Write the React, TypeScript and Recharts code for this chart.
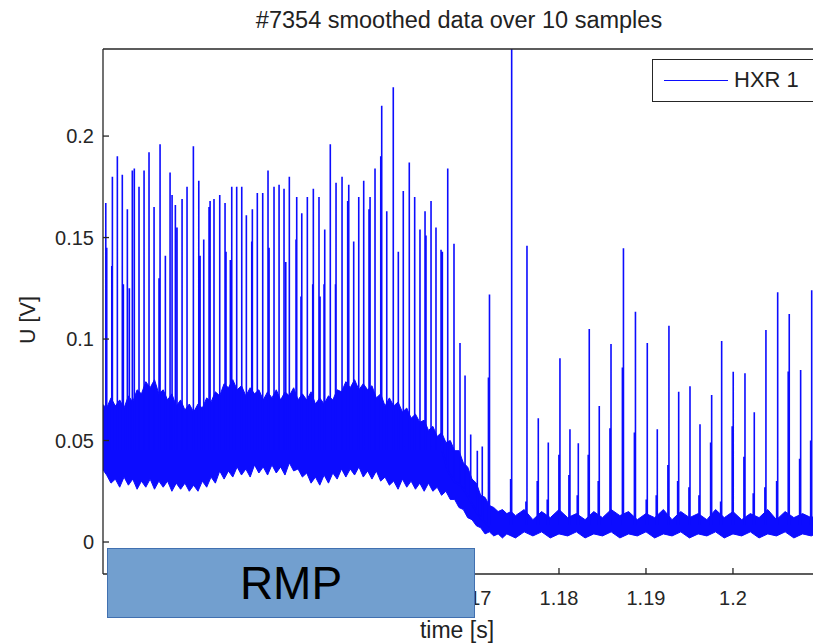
import React from "react";
import { ComposedChart, XAxis, YAxis, Area, Line } from "recharts";

// ---- axis settings ----
const X_MIN = 1.12758;
const X_MAX = 1.20943;
const Y_MIN = -0.01576;
const Y_MAX = 0.2429;
const xTicks = [1.13, 1.14, 1.15, 1.16, 1.17, 1.18, 1.19, 1.2];
// labels of 1.13 .. 1.16 are hidden under the RMP box in the reference
const xTickLabels = ["", "", "", "", "1.17", "1.18", "1.19", "1.2"];
const yTicks = [0, 0.05, 0.1, 0.15, 0.2];
const yTickLabels = ["0", "0.05", "0.1", "0.15", "0.2"];

// ---- noisy baseline band (envelope of the dense signal) ----
const bandTime = [
  1.1275, 1.128, 1.1285, 1.129, 1.1295, 1.13, 1.1305, 1.131, 1.1315, 1.132, 1.1325, 1.133,
  1.1335, 1.134, 1.1345, 1.135, 1.1355, 1.136, 1.1365, 1.137, 1.1375, 1.138, 1.1385, 1.139,
  1.1395, 1.14, 1.1405, 1.141, 1.1415, 1.142, 1.1425, 1.143, 1.1435, 1.144, 1.1445, 1.145,
  1.1455, 1.146, 1.1465, 1.147, 1.1475, 1.148, 1.1485, 1.149, 1.1495, 1.15, 1.1505, 1.151,
  1.1515, 1.152, 1.1525, 1.153, 1.1535, 1.154, 1.1545, 1.155, 1.1555, 1.156, 1.1565, 1.157,
  1.1575, 1.158, 1.1585, 1.159, 1.1595, 1.16, 1.1605, 1.161, 1.1615, 1.162, 1.1625, 1.163,
  1.1635, 1.164, 1.1645, 1.165, 1.1655, 1.166, 1.1665, 1.167, 1.1675, 1.168, 1.1685, 1.169,
  1.1695, 1.17, 1.1705, 1.171, 1.1715, 1.172, 1.1725, 1.173, 1.1735, 1.174, 1.1745,
  1.175, 1.176, 1.177, 1.178, 1.179, 1.18, 1.181, 1.182, 1.183, 1.184, 1.185, 1.186, 1.187,
  1.188, 1.189, 1.19, 1.191, 1.192, 1.193, 1.194, 1.195, 1.196, 1.197, 1.198, 1.199, 1.2,
  1.201, 1.202, 1.203, 1.204, 1.205, 1.206, 1.207, 1.208, 1.209, 1.2095,
];
const bandLow = [
  0.036, 0.033, 0.029, 0.031, 0.027, 0.032, 0.028, 0.031, 0.026, 0.03, 0.027, 0.031,
  0.026, 0.03, 0.027, 0.03, 0.025, 0.029, 0.026, 0.029, 0.025, 0.028, 0.025, 0.03,
  0.027, 0.032, 0.029, 0.035, 0.031, 0.035, 0.032, 0.037, 0.033, 0.036, 0.032, 0.038,
  0.034, 0.037, 0.033, 0.038, 0.034, 0.037, 0.033, 0.039, 0.035, 0.036, 0.032, 0.034,
  0.029, 0.032, 0.028, 0.033, 0.029, 0.034, 0.031, 0.036, 0.032, 0.036, 0.033, 0.037,
  0.032, 0.035, 0.031, 0.035, 0.03, 0.032, 0.028, 0.03, 0.026, 0.031, 0.027, 0.03,
  0.026, 0.029, 0.025, 0.029, 0.025, 0.027, 0.023, 0.025, 0.021, 0.021, 0.017, 0.016,
  0.012, 0.011, 0.008, 0.007, 0.004, 0.005, 0.003, 0.004, 0.002, 0.004, 0.003,
  0.002, 0.005, 0.003, 0.005, 0.002, 0.004, 0.003, 0.005, 0.002, 0.004, 0.003, 0.005, 0.002,
  0.004, 0.003, 0.005, 0.002, 0.004, 0.003, 0.005, 0.002, 0.004, 0.003, 0.005, 0.002, 0.004,
  0.003, 0.005, 0.002, 0.004, 0.003, 0.005, 0.002, 0.004, 0.003, 0.004,
];
const bandHigh = [
  0.068, 0.066, 0.071, 0.067, 0.07, 0.066, 0.072, 0.069, 0.075, 0.073, 0.079, 0.076,
  0.08, 0.073, 0.075, 0.07, 0.073, 0.067, 0.07, 0.065, 0.068, 0.064, 0.068, 0.066,
  0.071, 0.069, 0.074, 0.072, 0.078, 0.076, 0.08, 0.075, 0.077, 0.072, 0.076, 0.073,
  0.075, 0.07, 0.074, 0.071, 0.075, 0.07, 0.074, 0.072, 0.076, 0.07, 0.073, 0.07,
  0.074, 0.068, 0.071, 0.068, 0.072, 0.07, 0.075, 0.074, 0.079, 0.076, 0.08, 0.075,
  0.078, 0.075, 0.077, 0.071, 0.073, 0.067, 0.071, 0.067, 0.069, 0.064, 0.066, 0.061,
  0.063, 0.059, 0.06, 0.055, 0.057, 0.052, 0.054, 0.049, 0.05, 0.045, 0.045, 0.039,
  0.037, 0.031, 0.029, 0.023, 0.022, 0.018, 0.017, 0.015, 0.016, 0.014, 0.015,
  0.013, 0.016, 0.011, 0.015, 0.012, 0.016, 0.012, 0.014, 0.011, 0.015, 0.012, 0.016, 0.013,
  0.015, 0.011, 0.014, 0.012, 0.016, 0.011, 0.015, 0.012, 0.014, 0.011, 0.016, 0.012, 0.015,
  0.011, 0.014, 0.012, 0.016, 0.011, 0.015, 0.012, 0.014, 0.012, 0.013,
];

// ---- spikes before the drop (base inside band) ----
const LEFT_BASE = 0.045;
const leftSpikeTime = [
  1.1279, 1.12801, 1.12859, 1.12866, 1.12923, 1.1298, 1.12992, 1.13038, 1.13061, 1.13095,
  1.13118, 1.13172, 1.1323, 1.13287, 1.13345, 1.13402, 1.13414, 1.13475, 1.13529, 1.13552,
  1.1359, 1.13609, 1.13667, 1.13724, 1.13797, 1.13859, 1.13874, 1.13916, 1.13977, 1.13989,
  1.14034, 1.141, 1.14161, 1.14172, 1.14222, 1.14238, 1.14295, 1.14353, 1.14406, 1.14468,
  1.14475, 1.14532, 1.14594, 1.14655, 1.14667, 1.14724, 1.14782, 1.14839, 1.14859, 1.149,
  1.14977, 1.14985, 1.15034, 1.15043, 1.15107, 1.15169, 1.15176, 1.15241, 1.15253, 1.15299,
  1.15307, 1.15371, 1.15431, 1.15437, 1.15506, 1.15571, 1.15583, 1.1564, 1.15698, 1.15755,
  1.15816, 1.15828, 1.15885, 1.15951, 1.15962, 1.1602, 1.16095, 1.16153, 1.1621, 1.16279,
  1.16341, 1.16402, 1.1646, 1.16471, 1.16529, 1.16586, 1.16644, 1.16659,
];
const leftSpikePeak = [
  0.167, 0.145, 0.136, 0.18, 0.19, 0.181, 0.127, 0.164, 0.125, 0.183,
  0.184, 0.175, 0.183, 0.192, 0.165, 0.13, 0.196, 0.141, 0.182, 0.171,
  0.166, 0.155, 0.169, 0.175, 0.195, 0.178, 0.141, 0.149, 0.165, 0.168,
  0.169, 0.171, 0.167, 0.143, 0.139, 0.175, 0.175, 0.175, 0.161, 0.148,
  0.164, 0.172, 0.172, 0.183, 0.145, 0.175, 0.176, 0.174, 0.138, 0.18,
  0.149, 0.17, 0.121, 0.162, 0.17, 0.127, 0.174, 0.17, 0.121, 0.127,
  0.154, 0.196, 0.127, 0.177, 0.18, 0.168, 0.176, 0.148, 0.17, 0.178,
  0.164, 0.17, 0.184, 0.19, 0.215, 0.163, 0.224, 0.143, 0.173, 0.187,
  0.17, 0.154, 0.163, 0.151, 0.168, 0.155, 0.144, 0.143,
];

// ---- spikes during the drop ----
const dropSpikeTime = [1.16721, 1.16793, 1.16862, 1.1692, 1.16985, 1.17061, 1.17118];
const dropSpikePeak = [0.184, 0.147, 0.098, 0.082, 0.053, 0.045, 0.047];
const dropSpikeBase = [0.035, 0.03, 0.028, 0.025, 0.02, 0.014, 0.011];

// ---- spikes after the drop ----
const RIGHT_BASE = 0.008;
const rightSpikeTime = [
  1.17201, 1.17456, 1.17632, 1.17762, 1.17877, 1.18011, 1.18126, 1.18222, 1.18348, 1.18463,
  1.18598, 1.18741, 1.18879, 1.19015, 1.1913, 1.19264, 1.19376, 1.19506, 1.19621, 1.19755,
  1.1987, 1.20003, 1.20138, 1.20245, 1.20379, 1.20514, 1.20647, 1.20778, 1.20905,
];
const rightSpikePeak = [
  0.122, 0.26, 0.146, 0.061, 0.049, 0.0905, 0.0555, 0.0486, 0.105, 0.067,
  0.0975, 0.1447, 0.1135, 0.098, 0.0555, 0.1066, 0.074, 0.0768, 0.058, 0.0724,
  0.099, 0.0839, 0.0831, 0.0639, 0.1044, 0.123, 0.1123, 0.0847, 0.124,
];
const rightShoulder = [
  0.081, 0.031, 0.02, 0.03, 0.021, 0.043, 0.033, 0.023, 0.043, 0.03,
  0.056, 0.086, 0.054, 0.021, 0.023, 0.038, 0.03, 0.027, 0.023, 0.049,
  0.02, 0.057, 0.042, 0.024, 0.027, 0.03, 0.084, 0.041, 0.05,
];
const SHOULDER_OFFSET = 0.00012;

// ---- build tables for the library ----
const bandData = bandTime.map((t, i) => ({ t, range: [bandLow[i], bandHigh[i]] }));

const spikeData: { t: number; v: number }[] = [];
leftSpikeTime.forEach((t, i) => {
  spikeData.push({ t, v: LEFT_BASE }, { t, v: leftSpikePeak[i] }, { t, v: LEFT_BASE });
});
dropSpikeTime.forEach((t, i) => {
  const b = dropSpikeBase[i];
  spikeData.push({ t, v: b }, { t, v: dropSpikePeak[i] }, { t, v: b });
});
rightSpikeTime.forEach((t, i) => {
  const ts = t - SHOULDER_OFFSET;
  spikeData.push({ t: ts, v: RIGHT_BASE }, { t: ts, v: rightShoulder[i] }, { t: ts, v: RIGHT_BASE });
  spikeData.push({ t, v: RIGHT_BASE }, { t, v: rightSpikePeak[i] }, { t, v: RIGHT_BASE });
});

const xLabel = (v: number) => {
  const i = xTicks.indexOf(v);
  return i >= 0 ? xTickLabels[i] : "";
};
const yLabel = (v: number) => {
  const i = yTicks.indexOf(v);
  return i >= 0 ? yTickLabels[i] : "";
};

const BLUE = "#0c0cff";
const AXIS = "#262626";
const FONT = '"Liberation Sans", Arial, Helvetica, sans-serif';

export default function App() {
  return (
    <div
      style={{
        position: "fixed",
        left: 0,
        top: 0,
        width: 813,
        height: 643,
        overflow: "hidden",
        background: "#ffffff",
        fontFamily: FONT,
      }}
    >
      <ComposedChart
        width={830}
        height={643}
        margin={{ top: 48, right: 14, bottom: 29, left: 43 }}
        style={{ fontFamily: FONT }}
      >
        <XAxis
          xAxisId="b"
          type="number"
          dataKey="t"
          domain={[X_MIN, X_MAX]}
          allowDataOverflow
          ticks={xTicks}
          tickFormatter={xLabel}
          tickSize={-6}
          tickMargin={23}
          height={40}
          stroke={AXIS}
          strokeWidth={1.3}
          tick={{ fill: AXIS, fontSize: 20, fontFamily: FONT }}
        />
        <XAxis
          xAxisId="top"
          orientation="top"
          type="number"
          dataKey="t"
          domain={[X_MIN, X_MAX]}
          allowDataOverflow
          ticks={xTicks}
          tick={false}
          tickSize={-6}
          height={1}
          stroke={AXIS}
          strokeWidth={1.3}
        />
        <YAxis
          yAxisId="l"
          type="number"
          domain={[Y_MIN, Y_MAX]}
          allowDataOverflow
          ticks={yTicks}
          tickFormatter={yLabel}
          tickSize={-6}
          tickMargin={15}
          width={60}
          stroke={AXIS}
          strokeWidth={1.3}
          tick={{ fill: AXIS, fontSize: 20, fontFamily: FONT }}
        />
        <YAxis
          yAxisId="r"
          orientation="right"
          type="number"
          domain={[Y_MIN, Y_MAX]}
          allowDataOverflow
          ticks={yTicks}
          tick={false}
          tickSize={-6}
          width={1}
          stroke={AXIS}
          strokeWidth={1.3}
        />
        <Area
          xAxisId="b"
          yAxisId="l"
          data={bandData}
          dataKey="range"
          type="linear"
          stroke={BLUE}
          strokeWidth={1}
          fill={BLUE}
          fillOpacity={1}
          isAnimationActive={false}
          dot={false}
          activeDot={false}
        />
        <Line
          xAxisId="b"
          yAxisId="l"
          data={spikeData}
          dataKey="v"
          type="linear"
          stroke={BLUE}
          strokeWidth={1.6}
          dot={false}
          activeDot={false}
          isAnimationActive={false}
        />
      </ComposedChart>

      {/* title */}
      <div
        style={{
          position: "absolute",
          left: 459,
          top: 7,
          transform: "translateX(-50%)",
          whiteSpace: "nowrap",
          fontSize: 23.5,
          color: "#222",
          lineHeight: "26px",
        }}
      >
        #7354 smoothed data over 10 samples
      </div>

      {/* y label */}
      <div
        style={{
          position: "absolute",
          left: 28,
          top: 320,
          transform: "translate(-50%, -50%) rotate(-90deg)",
          whiteSpace: "nowrap",
          fontSize: 21.5,
          color: "#222",
          lineHeight: "24px",
        }}
      >
        U [V]
      </div>

      {/* x label */}
      <div
        style={{
          position: "absolute",
          left: 457,
          top: 617,
          transform: "translateX(-50%)",
          whiteSpace: "nowrap",
          fontSize: 23,
          color: "#222",
          lineHeight: "26px",
        }}
      >
        time [s]
      </div>

      {/* legend */}
      <div
        style={{
          position: "absolute",
          left: 652,
          top: 59,
          width: 162,
          height: 43,
          boxSizing: "border-box",
          border: "1.3px solid #262626",
          background: "#fff",
        }}
      >
        <div
          style={{
            position: "absolute",
            left: 11,
            top: 20,
            width: 64,
            height: 0,
            borderTop: `1.5px solid ${BLUE}`,
          }}
        />
        <div
          style={{
            position: "absolute",
            left: 81,
            top: 7,
            fontSize: 22,
            color: "#222",
            lineHeight: "26px",
            whiteSpace: "nowrap",
          }}
        >
          HXR 1
        </div>
      </div>

      {/* RMP box */}
      <div
        style={{
          position: "absolute",
          left: 107,
          top: 548,
          width: 368,
          height: 70,
          boxSizing: "border-box",
          border: "1.5px solid #4170b0",
          background: "#729fcf",
          display: "flex",
          alignItems: "center",
          justifyContent: "center",
          fontSize: 46,
          color: "#000",
          lineHeight: "46px",
        }}
      >
        RMP
      </div>
    </div>
  );
}
